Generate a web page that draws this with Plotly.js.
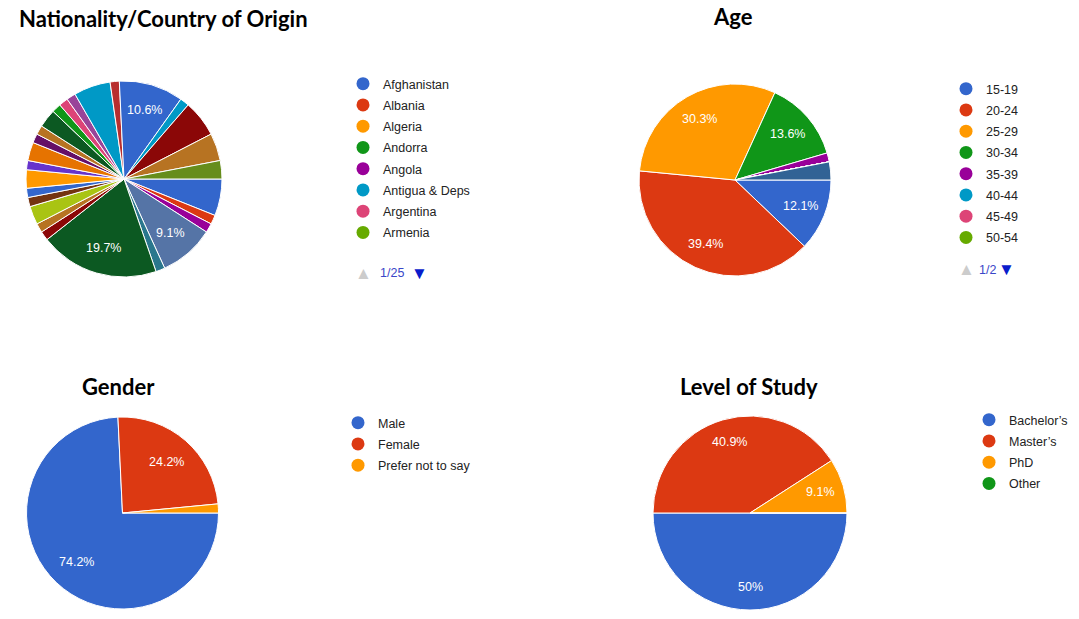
<!DOCTYPE html>
<html>
<head>
<meta charset="utf-8">
<script src="https://cdn.plot.ly/plotly-3.0.1.min.js"></script>
<style>html,body{margin:0;padding:0;background:#fff;}#chart{width:1079px;height:619px;}</style>
</head>
<body>
<div id="chart"></div>
<script>
// ---------- DATA ----------
// Nationality (slices in drawing order, respondents)
const nationLabels = ["Afghanistan","Albania","Angola","Benin","Burkina","Cameroon","Djibouti","Egypt","Ethiopia","Gambia","Georgia","Ghana","India","Indonesia","Iraq","Ivory Coast","Kosovo","Lebanon","Libya","Macedonia","Nigeria","Pakistan","Sierra Leone","Somalia","Syria","Togo","Uganda"];
const nationValues = [4,1,1,6,1,13,1,1,2,1,1,2,1,2,1,1,2,1,1,1,4,1,7,1,4,3,2];
const nationColors = ["#3366cc","#dc3912","#990099","#5574a6","#2a778d","#0c5922","#8b0707","#b77322","#a9c413","#743411","#3366cc","#ff9900","#6633cc","#e67300","#651067","#b77322","#0c5922","#109618","#dd4477","#994499","#0099c6","#b82e2e","#3366cc","#0099c6","#8b0707","#b77322","#668d1c"];
// Nationality legend, page 1 of 25
const nationLegend = ["Afghanistan","Albania","Algeria","Andorra","Angola","Antigua & Deps","Argentina","Armenia"];
const nationPage = "1/25";

// Age
const ageLabels = ["15-19","20-24","25-29","30-34","35-39","40-44","45-49","50-54","55-59","60-64"];
const ageValues = [8,26,20,9,1,0,0,0,0,2];
const ageLegend = ["15-19","20-24","25-29","30-34","35-39","40-44","45-49","50-54"];
const agePage = "1/2";

// Gender
const genderLabels = ["Male","Female","Prefer not to say"];
const genderValues = [49,16,1];

// Level of study
const studyLabels = ["Bachelor’s","Master’s","PhD","Other"];
const studyValues = [33,27,6,0];

// Palette
const palette = ["#3366cc","#dc3912","#ff9900","#109618","#990099","#0099c6","#dd4477","#66aa00","#b82e2e","#316395"];

// ---------- BUILD ----------
const W = 1079, H = 619;
const FONT = "Liberation Sans, Arial, sans-serif";
const START = 90; // first slice starts at 3 o'clock, clockwise
const traces = [];
const annotations = [];

function addPie(labels, values, colors, geo){
  const dom = {x:[(geo.cx-geo.r)/W, (geo.cx+geo.r)/W], y:[1-(geo.cy+geo.r)/H, 1-(geo.cy-geo.r)/H]};
  traces.push({
    type:"pie", labels:labels, values:values, sort:false, direction:"clockwise", rotation:START,
    marker:{colors:colors, line:{color:"#ffffff", width:1}},
    textinfo:"none", hoverinfo:"label+value+percent", showlegend:false, domain:dom
  });
  // percentage labels, placed along each slice's mid-angle (as the original chart does)
  const tot = values.reduce((a,b)=>a+b,0);
  let cum = 0;
  values.forEach(v=>{
    const p = Math.round(v/tot*1000)/10;
    const mid = START + (cum + v/2)/tot*360;
    cum += v;
    if (p < 8) return;
    const a = mid*Math.PI/180;
    const x = geo.cx + geo.r*geo.k*Math.sin(a);
    const y = geo.cy - geo.r*geo.k*Math.cos(a);
    annotations.push({text:p+"%", x:x/W, y:1-y/H, xref:"paper", yref:"paper",
      xanchor:"center", yanchor:"middle", showarrow:false,
      font:{family:FONT, size:12.5, color:"#ffffff"}});
  });
}
addPie(nationLabels, nationValues, nationColors, {cx:124, cy:179, r:98, k:0.73});
addPie(ageLabels, ageValues, palette, {cx:735, cy:180, r:96, k:0.73});
addPie(genderLabels, genderValues, palette, {cx:122.5, cy:513, r:96, k:0.70});
addPie(studyLabels, studyValues, palette, {cx:750, cy:513, r:97, k:0.76});

function legendTraces(names, legendId){
  names.forEach((n,i)=>{
    traces.push({type:"scatter", mode:"markers", x:[null], y:[null], name:n,
      legend:legendId, legendgroup:legendId+"_"+i,
      marker:{symbol:"circle", size:13, color:palette[i]}, hoverinfo:"skip"});
  });
}
legendTraces(nationLegend, "legend");
legendTraces(ageLegend, "legend2");
legendTraces(genderLabels, "legend3");
legendTraces(studyLabels, "legend4");

function legendBox(xpx, ypx){
  return {x:xpx/W, y:1-ypx/H, xanchor:"left", yanchor:"top",
    font:{family:FONT, size:12.5, color:"#222222"}, bgcolor:"rgba(0,0,0,0)",
    traceorder:"grouped", tracegroupgap:2, itemclick:false, itemdoubleclick:false};
}
function title(text, xpx, ypx, anchor){
  annotations.push({text:"<b>"+text+"</b>", x:xpx/W, y:1-ypx/H, xref:"paper", yref:"paper",
    xanchor:anchor, yanchor:"middle", showarrow:false,
    font:{family:"Lato, Open Sans, sans-serif", size:22, color:"#000000"}});
}
function pager(page, upX, textX, downX, ypx){
  const base = {xref:"paper", yref:"paper", yanchor:"middle", showarrow:false, y:1-ypx/H};
  annotations.push(Object.assign({}, base, {text:"▲", x:upX/W, xanchor:"center", font:{family:FONT, size:17, color:"#cccccc"}}));
  annotations.push(Object.assign({}, base, {text:page, x:textX/W, xanchor:"left", font:{family:FONT, size:12.5, color:"#3a46c8"}}));
  annotations.push(Object.assign({}, base, {text:"▼", x:downX/W, xanchor:"center", font:{family:FONT, size:17, color:"#0a1ccc"}}));
}
title("Nationality/Country of Origin", 17, 19, "left");
title("Age", 733, 16, "center");
title("Gender", 118, 386, "center");
title("Level of Study", 749, 386, "center");
pager(nationPage, 363, 378, 419, 273);
pager(agePage, 966, 977, 1006, 270);

const layout = {
  width:W, height:H, margin:{l:0,r:0,t:0,b:0},
  paper_bgcolor:"#ffffff", plot_bgcolor:"#ffffff",
  xaxis:{visible:false, domain:[0.99,1]}, yaxis:{visible:false, domain:[0.99,1]},
  legend: legendBox(343, 69),
  legend2: legendBox(946, 74),
  legend3: legendBox(338, 408),
  legend4: legendBox(969, 405),
  annotations:annotations,
  showlegend:true
};
Plotly.newPlot("chart", traces, layout, {displayModeBar:false});
</script>
</body>
</html>
